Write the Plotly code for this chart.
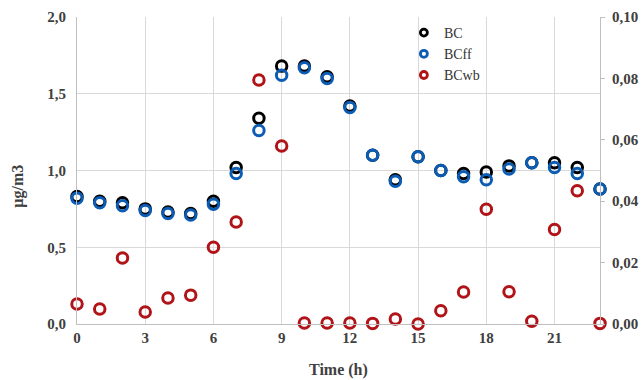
import plotly.graph_objects as go

hours = list(range(24))

# Mass concentrations (left axis, µg/m3)
bc = [0.83, 0.80, 0.79, 0.75, 0.73, 0.72, 0.80, 1.02, 1.34, 1.68, 1.68, 1.61,
      1.42, 1.10, 0.94, 1.09, 1.00, 0.98, 0.99, 1.03, 1.05, 1.05, 1.02, 0.88]
bcff = [0.82, 0.79, 0.77, 0.74, 0.72, 0.71, 0.78, 0.98, 1.26, 1.62, 1.67, 1.60,
        1.41, 1.10, 0.93, 1.09, 1.00, 0.96, 0.94, 1.01, 1.05, 1.02, 0.98, 0.88]
# Wood-burning component (right axis)
bcwb = [0.0065, 0.0049, 0.0215, 0.0039, 0.0085, 0.0094, 0.0250, 0.0332, 0.0795,
        0.0580, 0.0003, 0.0003, 0.0003, 0.0002, 0.0016, 0.0000, 0.0043, 0.0104,
        0.0374, 0.0105, 0.0009, 0.0308, 0.0434, 0.0002]

x_ticks = [0, 3, 6, 9, 12, 15, 18, 21]

C_BC = "#000000"
C_FF = "#0b5cb5"
C_WB = "#b01418"

SERIF = "Liberation Serif"
tick_font = dict(family=SERIF, size=15, color="#404040", weight="bold")
title_font = dict(family=SERIF, size=16, color="#404040", weight="bold")

fig = go.Figure()


def series(name, xs, ys, color, axis):
    return go.Scatter(
        x=xs, y=ys, name=name, mode="markers", yaxis=axis, cliponaxis=False,
        showlegend=False,
        marker=dict(symbol="circle-open", size=10.5, color=color,
                    line=dict(width=3, color=color)),
    )


fig.add_trace(series("BC", hours, bc, C_BC, "y"))
fig.add_trace(series("BCff", hours, bcff, C_FF, "y"))
fig.add_trace(series("BCwb", hours, bcwb, C_WB, "y2"))

# Legend entries with compact symbols
for name, color in [("BC", C_BC), ("BCff", C_FF), ("BCwb", C_WB)]:
    fig.add_trace(go.Scatter(
        x=[None], y=[None], name=name, mode="markers", showlegend=True,
        marker=dict(symbol="circle-open", size=7, color=color,
                    line=dict(width=2.8, color=color)),
    ))

fig.update_layout(
    template="none",
    width=641, height=380,
    margin=dict(l=77, r=41, t=17, b=56),
    paper_bgcolor="white", plot_bgcolor="white",
    font=dict(family=SERIF, size=14, color="#404040"),
    separators=",.",
    showlegend=True,
    legend=dict(x=0.625, y=1.0, xanchor="left", yanchor="top",
                bgcolor="rgba(255,255,255,0)", borderwidth=0,
                font=dict(family=SERIF, size=14, color="#333333"),
                itemwidth=30, tracegroupgap=0),
    xaxis=dict(range=[0, 23], tickvals=x_ticks, showgrid=True,
               gridcolor="#d9d9d9", gridwidth=1, zeroline=False,
               showline=True, linecolor="#bfbfbf", linewidth=1,
               ticks="", tickfont=tick_font, automargin=False),
    yaxis=dict(range=[0, 2.0], tickvals=[0, 0.5, 1.0, 1.5, 2.0],
               tickformat=".1f", showgrid=True, gridcolor="#d9d9d9",
               zeroline=False, showline=True, linecolor="#bfbfbf",
               linewidth=1, ticks="", tickfont=tick_font, automargin=False,
               ticklabelstandoff=7),
    yaxis2=dict(range=[0, 0.10], tickvals=[0, 0.02, 0.04, 0.06, 0.08, 0.10],
                tickformat=".2f", overlaying="y", side="right", showgrid=False,
                zeroline=False, showline=True, linecolor="#bfbfbf", linewidth=1,
                ticks="outside", ticklen=4, tickcolor="#bfbfbf",
                tickfont=tick_font, automargin=False, ticklabelstandoff=4),
    annotations=[
        dict(text="Time (h)", xref="paper", yref="paper", x=0.5, y=-0.15,
             xanchor="center", yanchor="middle", showarrow=False, font=title_font),
        dict(text="µg/m3", xref="paper", yref="paper", x=-0.113, y=0.45,
             xanchor="center", yanchor="middle", textangle=-90,
             showarrow=False, font=title_font),
    ],
)

fig.write_html("out.html")
